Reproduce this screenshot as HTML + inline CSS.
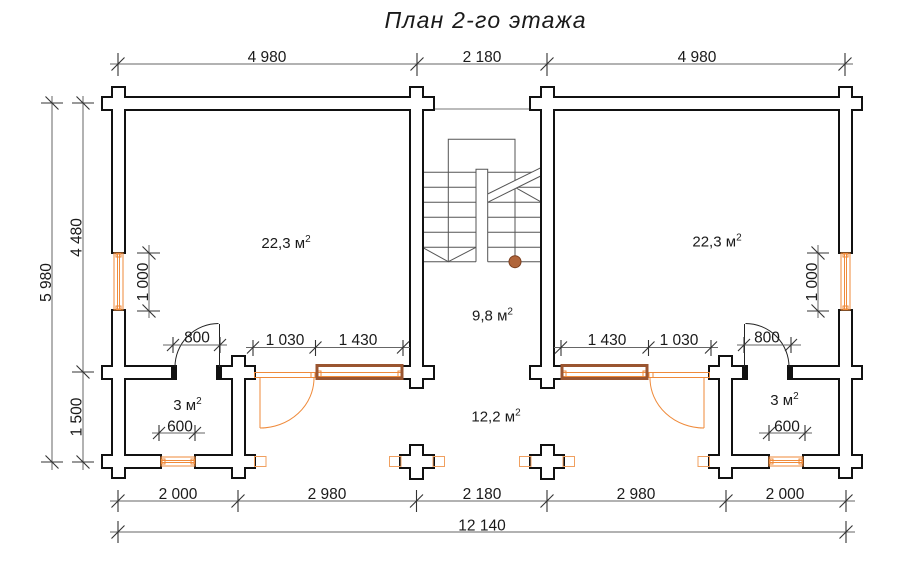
<!DOCTYPE html>
<html><head><meta charset="utf-8"><style>
html,body{margin:0;padding:0;background:#fff;}
svg{display:block;}
text{font-family:"Liberation Sans",Arial,sans-serif;fill:#1a1a1a;}
</style></head><body>
<svg width="900" height="568" viewBox="0 0 900 568" xmlns="http://www.w3.org/2000/svg">
<defs>
<g id="walls">
<rect x="103" y="98" width="330" height="11"/>
<rect x="113" y="88" width="11" height="164"/>
<rect x="113" y="311" width="11" height="166"/>
<rect x="411" y="88" width="11" height="299"/>
<rect x="103" y="367" width="72" height="11"/>
<rect x="218" y="367" width="36" height="11"/>
<rect x="233" y="357" width="11" height="120"/>
<rect x="403" y="367" width="30" height="11"/>
<rect x="103" y="456" width="57" height="11"/>
<rect x="196" y="456" width="58" height="11"/>
<rect x="411" y="446" width="11" height="32"/>
<rect x="401" y="456" width="32" height="11"/>
<rect x="542" y="446" width="11" height="32"/>
<rect x="531" y="456" width="32" height="11"/>
<rect x="531" y="98" width="330" height="11"/>
<rect x="840" y="88" width="11" height="164"/>
<rect x="840" y="311" width="11" height="166"/>
<rect x="542" y="88" width="11" height="299"/>
<rect x="789" y="367" width="72" height="11"/>
<rect x="710" y="367" width="36" height="11"/>
<rect x="720" y="357" width="11" height="120"/>
<rect x="531" y="367" width="30" height="11"/>
<rect x="804" y="456" width="57" height="11"/>
<rect x="710" y="456" width="58" height="11"/>
</g>
</defs>

<!-- Title -->
<text x="485" y="28" text-anchor="middle" font-size="23" font-style="italic" textLength="201" lengthAdjust="spacing">План 2-го этажа</text>

<!-- stair hall top thin line -->
<line x1="433" y1="109" x2="531" y2="109" stroke="#777" stroke-width="1"/>

<!-- Stairs -->
<g stroke="#555" stroke-width="1" fill="none">
<polyline points="448.3,261.7 448.3,139.3 515,139.3 515,256"/>
<polyline points="476,261.7 476,169.3 487.7,169.3 487.7,261.7"/>
<line x1="422.3" y1="172.3" x2="476" y2="172.3"/>
<line x1="422.3" y1="187.3" x2="476" y2="187.3"/>
<line x1="422.3" y1="202.3" x2="476" y2="202.3"/>
<line x1="422.3" y1="217.3" x2="476" y2="217.3"/>
<line x1="422.3" y1="232.3" x2="476" y2="232.3"/>
<line x1="422.3" y1="247.3" x2="476" y2="247.3"/>
<polyline points="422.3,247.3 448.3,261.7 476,247.3"/>
<line x1="422.3" y1="261.7" x2="476" y2="261.7"/>
<line x1="487.7" y1="261.7" x2="541.7" y2="261.7"/>
<line x1="487.7" y1="172.3" x2="541.7" y2="172.3"/>
<line x1="515" y1="187.3" x2="541.7" y2="187.3"/>
<line x1="487.7" y1="202.3" x2="541.7" y2="202.3"/>
<line x1="487.7" y1="217.3" x2="541.7" y2="217.3"/>
<line x1="487.7" y1="232.3" x2="541.7" y2="232.3"/>
<line x1="487.7" y1="247.3" x2="541.7" y2="247.3"/>
<line x1="515" y1="187.3" x2="541.7" y2="202.3"/>
</g>
<polygon points="488.2,194 541.2,167.5 541.2,175.5 488.2,202" fill="#fff"/>
<g stroke="#555" stroke-width="1">
<line x1="487.7" y1="194" x2="541.7" y2="167.3"/>
<line x1="487.7" y1="202.3" x2="541.7" y2="175.5"/>
</g>
<circle cx="515" cy="261.7" r="6" fill="#b0653a" stroke="#7a3e1e" stroke-width="1"/>

<!-- Walls -->
<use href="#walls" fill="#fff" stroke="#111" stroke-width="4"/>
<use href="#walls" fill="#fff" stroke="none"/>
<!-- jamb caps -->
<g fill="#111">
<rect x="171" y="367" width="4" height="11"/>
<rect x="218" y="367" width="4" height="11"/>
<rect x="789" y="367" width="4" height="11"/>
<rect x="742" y="367" width="4" height="11"/>
</g>

<!-- Windows / doors orange -->
<g stroke="#ef8a3a" stroke-width="1" fill="none">
<rect x="114" y="253" width="9" height="57"/>
<line x1="117.5" y1="253" x2="117.5" y2="310"/>
<line x1="119.5" y1="253" x2="119.5" y2="310"/>
<rect x="116" y="254" width="5" height="3"/>
<rect x="116" y="306" width="5" height="3"/>
<rect x="841" y="253" width="9" height="57"/>
<line x1="844.5" y1="253" x2="844.5" y2="310"/>
<line x1="846.5" y1="253" x2="846.5" y2="310"/>
<rect x="843" y="254" width="5" height="3"/>
<rect x="843" y="306" width="5" height="3"/>
<rect x="161" y="457" width="34" height="9"/>
<line x1="161" y1="460.5" x2="195" y2="460.5"/>
<line x1="161" y1="462.5" x2="195" y2="462.5"/>
<rect x="162" y="459" width="3" height="5"/>
<rect x="191" y="459" width="3" height="5"/>
<rect x="769" y="457" width="34" height="9"/>
<line x1="769" y1="460.5" x2="803" y2="460.5"/>
<line x1="769" y1="462.5" x2="803" y2="462.5"/>
<rect x="770" y="459" width="3" height="5"/>
<rect x="799" y="459" width="3" height="5"/>
<rect x="254.5" y="372.5" width="61" height="5"/>
<rect x="311" y="372.5" width="4" height="5"/>
<rect x="648.5" y="372.5" width="61" height="5"/>
<rect x="649" y="372.5" width="4" height="5"/>
<line x1="260" y1="378" x2="260" y2="428"/>
<line x1="260" y1="428" x2="264" y2="428"/>
<path d="M260,428 A54,50 0 0 0 314,378"/>
<line x1="704" y1="378" x2="704" y2="428"/>
<line x1="700" y1="428" x2="704" y2="428"/>
<path d="M704,428 A54,50 0 0 1 650,378"/>
<line x1="318" y1="372.5" x2="401" y2="372.5"/>
<line x1="318" y1="376.5" x2="401" y2="376.5"/>
<rect x="318" y="371" width="3" height="6"/>
<rect x="398" y="371" width="3" height="6"/>
<line x1="563" y1="372.5" x2="646" y2="372.5"/>
<line x1="563" y1="376.5" x2="646" y2="376.5"/>
<rect x="563" y="371" width="3" height="6"/>
<rect x="643" y="371" width="3" height="6"/>
</g>
<g stroke="#9a5530" stroke-width="3" fill="none">
<rect x="317" y="365.5" width="85" height="13"/>
<rect x="562" y="365.5" width="85" height="13"/>
</g>
<g stroke="#f0a060" stroke-width="1" fill="none">
<rect x="254.5" y="456.5" width="11.5" height="10"/>
<rect x="389.5" y="456.5" width="11.5" height="10"/>
<rect x="433" y="456.5" width="11.5" height="10"/>
<rect x="519.5" y="456.5" width="11.5" height="10"/>
<rect x="563" y="456.5" width="11.5" height="10"/>
<rect x="698" y="456.5" width="11.5" height="10"/>
</g>

<g stroke="#222" stroke-width="1" fill="none">
<path d="M175,367 A43.5,43.5 0 0 1 218.5,323.5"/>
<line x1="219.5" y1="324" x2="219.5" y2="367"/>
<path d="M789,367 A43.5,43.5 0 0 0 745.5,323.5"/>
<line x1="744.5" y1="324" x2="744.5" y2="367"/>
</g>

<!-- Dimension lines -->
<g stroke="#666" stroke-width="1" fill="none">
<line x1="110" y1="64" x2="853" y2="64"/>
<line x1="110" y1="501" x2="855" y2="501"/>
<line x1="110" y1="532" x2="855" y2="532"/>
<line x1="52" y1="96" x2="52" y2="470"/>
<line x1="83" y1="96" x2="83" y2="470"/>
<line x1="149" y1="245" x2="149" y2="318"/>
<line x1="818" y1="245" x2="818" y2="318"/>
<line x1="163" y1="345" x2="227" y2="345"/>
<line x1="246" y1="347.5" x2="410" y2="347.5"/>
<line x1="152" y1="433" x2="205" y2="433"/>
<line x1="737" y1="345" x2="801" y2="345"/>
<line x1="554" y1="347.5" x2="718" y2="347.5"/>
<line x1="759" y1="433" x2="812" y2="433"/>
</g>
<g stroke="#333" stroke-width="1.1" fill="none">
<path d="M118,53V76M111.5,70.5L124.5,57.5"/>
<path d="M417,53V76M410.5,70.5L423.5,57.5"/>
<path d="M547,53V76M540.5,70.5L553.5,57.5"/>
<path d="M845,53V76M838.5,70.5L851.5,57.5"/>
<path d="M118,490V512M111.5,507.5L124.5,494.5"/>
<path d="M238,490V512M231.5,507.5L244.5,494.5"/>
<path d="M416.5,490V512M410,507.5L423,494.5"/>
<path d="M547,490V512M540.5,507.5L553.5,494.5"/>
<path d="M726,490V512M719.5,507.5L732.5,494.5"/>
<path d="M846,490V512M839.5,507.5L852.5,494.5"/>
<path d="M118,521V543M111.5,538.5L124.5,525.5"/>
<path d="M846,521V543M839.5,538.5L852.5,525.5"/>
<path d="M41,103H63M45.5,96.5L58.5,109.5"/>
<path d="M41,462H63M45.5,455.5L58.5,468.5"/>
<path d="M72,103H94M76.5,96.5L89.5,109.5"/>
<path d="M72,372H94M76.5,365.5L89.5,378.5"/>
<path d="M72,462H94M76.5,455.5L89.5,468.5"/>
<path d="M137,253H160M142.5,246.5L155.5,259.5"/>
<path d="M137,311H160M142.5,304.5L155.5,317.5"/>
<path d="M807,253H829M811.5,246.5L824.5,259.5"/>
<path d="M807,311H829M811.5,304.5L824.5,317.5"/>
<path d="M173,337V353M167,351L179,339"/>
<path d="M220,337V353M214,351L226,339"/>
<path d="M253,340V356M247,353.5L259,341.5"/>
<path d="M315.5,340V356M309.5,353.5L321.5,341.5"/>
<path d="M403,340V356M397,353.5L409,341.5"/>
<path d="M159,425V441M153,439L165,427"/>
<path d="M195,425V441M189,439L201,427"/>
<path d="M744,337V353M738,351L750,339"/>
<path d="M791,337V353M785,351L797,339"/>
<path d="M561,340V356M555,353.5L567,341.5"/>
<path d="M648.5,340V356M642.5,353.5L654.5,341.5"/>
<path d="M711,340V356M705,353.5L717,341.5"/>
<path d="M769,425V441M763,439L775,427"/>
<path d="M805,425V441M799,439L811,427"/>
</g>

<g font-size="15.5" text-anchor="middle">
<text x="267" y="62">4 980</text>
<text x="482" y="62">2 180</text>
<text x="697" y="62">4 980</text>
<text x="178" y="499">2 000</text>
<text x="327" y="499">2 980</text>
<text x="482" y="499">2 180</text>
<text x="636" y="499">2 980</text>
<text x="785" y="499">2 000</text>
<text x="482" y="530.5">12 140</text>
<text transform="translate(51,282.5) rotate(-90)">5 980</text>
<text transform="translate(81.5,237.5) rotate(-90)">4 480</text>
<text transform="translate(81.5,417) rotate(-90)">1 500</text>
<text transform="translate(148,282) rotate(-90)">1 000</text>
<text transform="translate(817,282) rotate(-90)">1 000</text>
<text x="197" y="342.5">800</text>
<text x="285" y="345">1 030</text>
<text x="358" y="345">1 430</text>
<text x="180" y="431.5">600</text>
<text x="767" y="342.5">800</text>
<text x="607" y="345">1 430</text>
<text x="679" y="345">1 030</text>
<text x="787" y="431.5">600</text>
</g>

<g font-size="15" text-anchor="middle">
<text x="286" y="248">22,3 м<tspan font-size="10" dy="-6">2</tspan></text>
<text x="717" y="246.5">22,3 м<tspan font-size="10" dy="-6">2</tspan></text>
<text x="492.5" y="320.5">9,8 м<tspan font-size="10" dy="-6">2</tspan></text>
<text x="496" y="421.5">12,2 м<tspan font-size="10" dy="-6">2</tspan></text>
<text x="187.5" y="410">3 м<tspan font-size="10" dy="-6">2</tspan></text>
<text x="784.5" y="405">3 м<tspan font-size="10" dy="-6">2</tspan></text>
</g>
</svg>
</body></html>
